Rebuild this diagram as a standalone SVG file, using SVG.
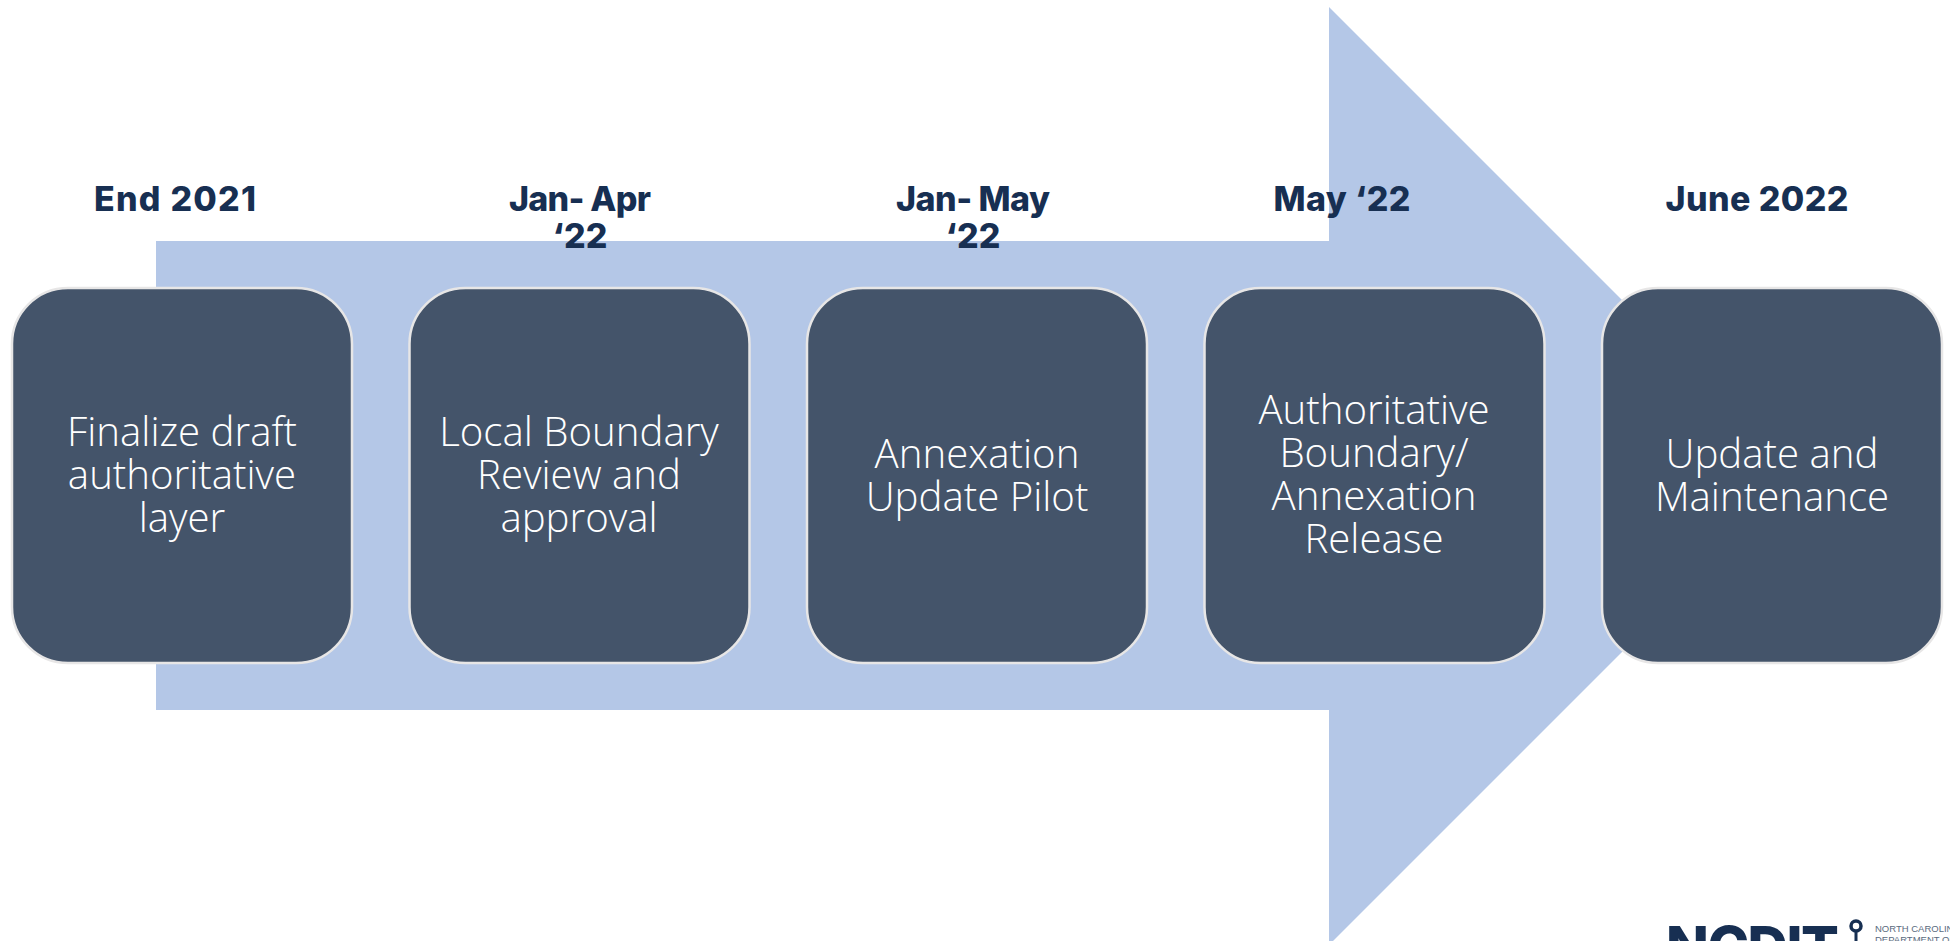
<svg xmlns="http://www.w3.org/2000/svg" width="1950" height="941" viewBox="0 0 1950 941">
<style>
.n{fill:#44546a;stroke:#e7e6e6;stroke-width:2.500}
.t{font-family:"Open Sans","Liberation Sans",sans-serif;font-weight:300;font-size:40.200px;fill:#fff;text-anchor:middle}
.d{font-family:Inter,"Liberation Sans",sans-serif;font-weight:800;font-size:34px;fill:#172f52;text-anchor:middle}
</style>
<rect width="1950" height="941" fill="#fff"/>
<path id="arrow" d="M156 241H1329V7L1798 476L1329 945V710H156Z" fill="#b4c7e7"/>
<g id="connectors"/>
<g id="node1"><rect class="n" x="12" y="288" width="340" height="375" rx="56"/><text class="t" y="446"><tspan x="182">Finalize draft</tspan><tspan x="182" dy="43">authoritative</tspan><tspan x="182" dy="43">layer</tspan></text></g>
<g id="node2"><rect class="n" x="409.500" y="288" width="340" height="375" rx="56"/><text class="t" y="446"><tspan x="579">Local Boundary</tspan><tspan x="579" dy="43">Review and</tspan><tspan x="579" dy="43">approval</tspan></text></g>
<g id="node3"><rect class="n" x="807" y="288" width="340" height="375" rx="56"/><text class="t" y="468"><tspan x="977">Annexation</tspan><tspan x="977" dy="43">Update Pilot</tspan></text></g>
<g id="node4"><rect class="n" x="1204.500" y="288" width="340" height="375" rx="56"/><text class="t" y="424"><tspan x="1374">Authoritative</tspan><tspan x="1374" dy="43">Boundary/</tspan><tspan x="1374" dy="43">Annexation</tspan><tspan x="1374" dy="43">Release</tspan></text></g>
<g id="node5"><rect class="n" x="1602" y="288" width="340" height="375" rx="56"/><text class="t" y="468"><tspan x="1772">Update and</tspan><tspan x="1772" dy="43">Maintenance</tspan></text></g>
<g id="labels">
<text class="d" x="175" y="211" textLength="162">End 2021</text>
<text class="d" x="580" y="211" textLength="142">Jan- Apr</text>
<text class="d" x="580" y="248" textLength="55">‘22</text>
<text class="d" x="973" y="211" textLength="154">Jan- May</text>
<text class="d" x="973" y="248" textLength="55">‘22</text>
<text class="d" x="1342" y="211" textLength="137">May ‘22</text>
<text class="d" x="1757" y="211" textLength="183">June 2022</text>
</g>
<g id="logo">
<text x="1666" y="967" font-family="Inter,'Liberation Sans',sans-serif" font-weight="800" font-size="56" fill="#172f52" textLength="173">NCDIT</text>
<circle cx="1856" cy="926" r="5" fill="none" stroke="#172f52" stroke-width="3.500"/><rect x="1854.500" y="931" width="3" height="12" fill="#172f52"/>
<text font-family="'Liberation Sans',sans-serif" font-size="9.500" fill="#5a6b80"><tspan x="1875" y="932">NORTH CAROLINA</tspan><tspan x="1875" y="943">DEPARTMENT OF</tspan></text>
</g>
</svg>
